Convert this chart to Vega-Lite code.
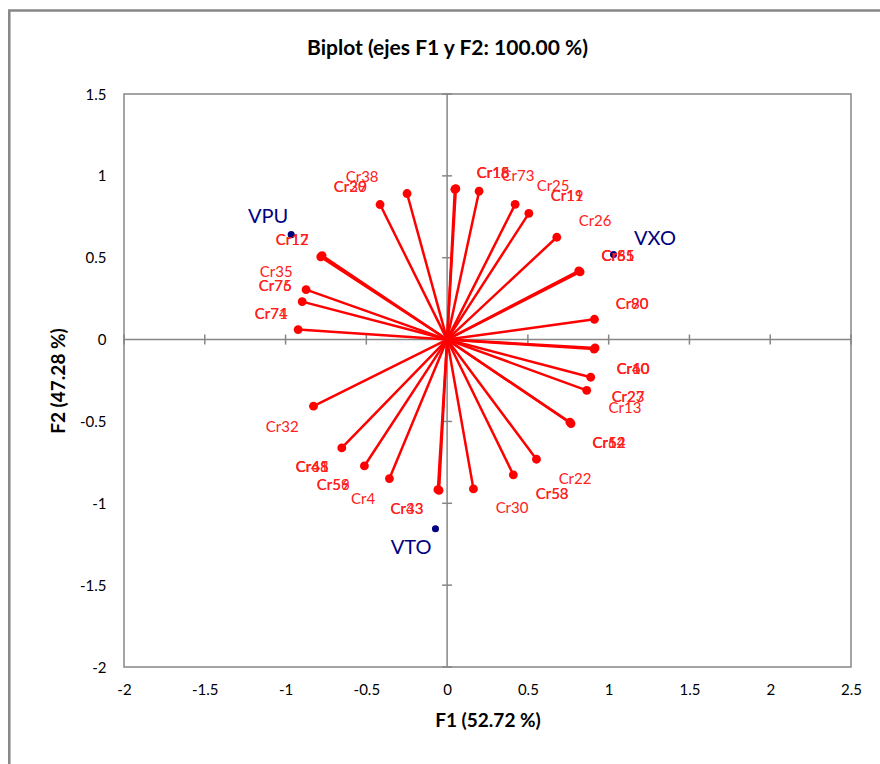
{
  "$schema": "https://vega.github.io/schema/vega-lite/v6.json",
  "width": 727,
  "height": 573,
  "autosize": {"type": "none"},
  "padding": {"left": 124, "top": 94, "right": 29, "bottom": 97},
  "background": "white",
  "title": {"text": "Biplot (ejes F1 y F2: 100.00 %)", "font": "Lato", "fontSize": 21, "fontWeight": "bold", "color": "#000000", "offset": -50, "dx": -40},
  "datasets": {
    "vec": [
      {"x": -0.248, "y": 0.892}, {"x": -0.415, "y": 0.825}, {"x": -0.774, "y": 0.513}, {"x": -0.782, "y": 0.505},
      {"x": -0.873, "y": 0.305}, {"x": -0.897, "y": 0.232}, {"x": -0.922, "y": 0.061},
      {"x": 0.054, "y": 0.922}, {"x": 0.048, "y": 0.918}, {"x": 0.198, "y": 0.906}, {"x": 0.421, "y": 0.826},
      {"x": 0.506, "y": 0.771}, {"x": 0.679, "y": 0.625}, {"x": 0.823, "y": 0.413}, {"x": 0.815, "y": 0.42},
      {"x": 0.912, "y": 0.124}, {"x": 0.916, "y": -0.051}, {"x": 0.91, "y": -0.058}, {"x": 0.889, "y": -0.23},
      {"x": 0.864, "y": -0.31}, {"x": 0.767, "y": -0.513}, {"x": 0.76, "y": -0.505}, {"x": 0.553, "y": -0.731},
      {"x": 0.41, "y": -0.826}, {"x": 0.163, "y": -0.912}, {"x": -0.05, "y": -0.921}, {"x": -0.057, "y": -0.917},
      {"x": -0.357, "y": -0.849}, {"x": -0.512, "y": -0.772}, {"x": -0.652, "y": -0.662}, {"x": -0.827, "y": -0.407}
    ],
    "lab": [
      {"x": -0.526, "y": 0.99, "name": "Cr38"},
      {"x": -0.6, "y": 0.929, "name": "Cr20"}, {"x": -0.6, "y": 0.929, "name": "Cr39"},
      {"x": -0.959, "y": 0.611, "name": "Cr12"}, {"x": -0.959, "y": 0.611, "name": "Cr17"},
      {"x": -1.058, "y": 0.415, "name": "Cr35"},
      {"x": -1.064, "y": 0.33, "name": "Cr75"}, {"x": -1.064, "y": 0.33, "name": "Cr76"},
      {"x": -1.089, "y": 0.159, "name": "Cr74"}, {"x": -1.089, "y": 0.159, "name": "Cr71"},
      {"x": 0.285, "y": 1.02, "name": "Cr15"}, {"x": 0.285, "y": 1.02, "name": "Cr18"}, {"x": 0.285, "y": 1.02, "name": "Cr16"},
      {"x": 0.439, "y": 1.002, "name": "Cr73"},
      {"x": 0.656, "y": 0.935, "name": "Cr25"},
      {"x": 0.743, "y": 0.874, "name": "Cr11"}, {"x": 0.743, "y": 0.874, "name": "Cr19"},
      {"x": 0.916, "y": 0.727, "name": "Cr26"},
      {"x": 1.058, "y": 0.513, "name": "Cr85"}, {"x": 1.058, "y": 0.513, "name": "Cr65"}, {"x": 1.058, "y": 0.513, "name": "Cr51"},
      {"x": 1.145, "y": 0.22, "name": "Cr80"}, {"x": 1.145, "y": 0.22, "name": "Cr90"},
      {"x": 1.151, "y": -0.177, "name": "Cr60"}, {"x": 1.151, "y": -0.177, "name": "Cr10"}, {"x": 1.151, "y": -0.177, "name": "Cr40"},
      {"x": 1.12, "y": -0.348, "name": "Cr23"}, {"x": 1.12, "y": -0.348, "name": "Cr27"},
      {"x": 1.101, "y": -0.421, "name": "Cr13"},
      {"x": 1.002, "y": -0.629, "name": "Cr14"}, {"x": 1.002, "y": -0.629, "name": "Cr52"}, {"x": 1.002, "y": -0.629, "name": "Cr62"},
      {"x": 0.792, "y": -0.849, "name": "Cr22"},
      {"x": 0.65, "y": -0.941, "name": "Cr58"}, {"x": 0.65, "y": -0.941, "name": "Cr53"},
      {"x": 0.402, "y": -1.026, "name": "Cr30"},
      {"x": -1.021, "y": -0.531, "name": "Cr32"},
      {"x": -0.835, "y": -0.776, "name": "Cr45"}, {"x": -0.835, "y": -0.776, "name": "Cr61"}, {"x": -0.835, "y": -0.776, "name": "Cr48"},
      {"x": -0.705, "y": -0.886, "name": "Cr56"}, {"x": -0.705, "y": -0.886, "name": "Cr59"},
      {"x": -0.52, "y": -0.971, "name": "Cr4"},
      {"x": -0.248, "y": -1.032, "name": "Cr33"}, {"x": -0.248, "y": -1.032, "name": "Cr43"}
    ],
    "vars": [
      {"x": -0.965, "y": 0.641, "lx": -1.108, "ly": 0.751, "name": "VPU"},
      {"x": 1.03, "y": 0.519, "lx": 1.287, "ly": 0.617, "name": "VXO"},
      {"x": -0.072, "y": -1.155, "lx": -0.223, "ly": -1.271, "name": "VTO"}
    ],
    "xticks": [{"v": -2}, {"v": -1.5}, {"v": -1}, {"v": -0.5}, {"v": 0}, {"v": 0.5}, {"v": 1}, {"v": 1.5}, {"v": 2}, {"v": 2.5}],
    "yticks": [{"v": -2}, {"v": -1.5}, {"v": -1}, {"v": -0.5}, {"v": 0}, {"v": 0.5}, {"v": 1}, {"v": 1.5}]
  },
  "config": {
    "view": {"stroke": "#868686", "strokeWidth": 1.5},
    "axis": {"grid": false, "labelFont": "Lato", "labelFontSize": 15, "labelColor": "#000000", "titleFont": "Lato", "titleFontSize": 19, "titleFontWeight": "bold", "titleColor": "#000000"}
  },
  "encoding": {
    "x": {"type": "quantitative", "scale": {"domain": [-2, 2.5], "nice": false, "zero": false}},
    "y": {"type": "quantitative", "scale": {"domain": [-2, 1.5], "nice": false, "zero": false}}
  },
  "layer": [
    {
      "data": {"values": [{}]},
      "mark": {"type": "rule", "color": "#868686", "strokeWidth": 1.5},
      "encoding": {
        "x": {"datum": -2, "type": "quantitative",
          "axis": {"orient": "bottom", "title": "F1 (52.72 %)", "values": [-2, -1.5, -1, -0.5, 0, 0.5, 1, 1.5, 2, 2.5], "labelExpr": "datum.value + ''", "ticks": false, "domain": false, "labelPadding": 15, "titlePadding": 14, "labelFlush": false, "labelOverlap": false}},
        "x2": {"datum": 2.5},
        "y": {"datum": 0, "type": "quantitative",
          "axis": {"orient": "left", "title": "F2 (47.28 %)", "values": [-2, -1.5, -1, -0.5, 0, 0.5, 1, 1.5], "labelExpr": "datum.value + ''", "ticks": false, "domain": false, "labelPadding": 18, "titlePadding": 11, "labelFlush": false, "labelOverlap": false}}
      }
    },
    {
      "data": {"values": [{}]},
      "mark": {"type": "rule", "color": "#868686", "strokeWidth": 1.5},
      "encoding": {
        "y": {"datum": -2, "type": "quantitative"},
        "y2": {"datum": 1.5},
        "x": {"datum": 0, "type": "quantitative"}
      }
    },
    {
      "data": {"name": "xticks"},
      "mark": {"type": "tick", "color": "#868686", "orient": "vertical", "size": 10, "thickness": 1.5, "opacity": 1},
      "encoding": {
        "x": {"field": "v", "type": "quantitative"},
        "y": {"datum": 0, "type": "quantitative"}
      }
    },
    {
      "data": {"name": "yticks"},
      "mark": {"type": "tick", "color": "#868686", "orient": "horizontal", "size": 10, "thickness": 1.5, "opacity": 1},
      "encoding": {
        "y": {"field": "v", "type": "quantitative"},
        "x": {"datum": 0, "type": "quantitative"}
      }
    },
    {
      "data": {"name": "vec"},
      "mark": {"type": "rule", "color": "#FF0000", "strokeWidth": 2.5},
      "encoding": {
        "x": {"field": "x", "type": "quantitative"},
        "y": {"field": "y", "type": "quantitative"},
        "x2": {"datum": 0},
        "y2": {"datum": 0}
      }
    },
    {
      "data": {"name": "vec"},
      "mark": {"type": "circle", "color": "#FF0000", "opacity": 1, "size": 78},
      "encoding": {
        "x": {"field": "x", "type": "quantitative"},
        "y": {"field": "y", "type": "quantitative"}
      }
    },
    {
      "data": {"name": "vars"},
      "mark": {"type": "circle", "color": "#000080", "opacity": 1, "size": 50},
      "encoding": {
        "x": {"field": "x", "type": "quantitative"},
        "y": {"field": "y", "type": "quantitative"}
      }
    },
    {
      "data": {"name": "lab"},
      "mark": {"type": "text", "color": "#FF2020", "font": "Lato", "fontSize": 15, "align": "center", "baseline": "middle"},
      "encoding": {
        "x": {"field": "x", "type": "quantitative"},
        "y": {"field": "y", "type": "quantitative"},
        "text": {"field": "name", "type": "nominal"}
      }
    },
    {
      "data": {"name": "vars"},
      "mark": {"type": "text", "color": "#000080", "font": "Lato", "fontSize": 20, "align": "center", "baseline": "middle"},
      "encoding": {
        "x": {"field": "lx", "type": "quantitative"},
        "y": {"field": "ly", "type": "quantitative"},
        "text": {"field": "name", "type": "nominal"}
      }
    },
    {
      "data": {"values": [{}]},
      "mark": {"type": "rect", "fill": null, "fillOpacity": 0, "stroke": "#868686", "strokeWidth": 2.5},
      "encoding": {
        "x": {"datum": -2.71, "type": "quantitative"},
        "x2": {"datum": 3.5},
        "y": {"datum": 2.01, "type": "quantitative"},
        "y2": {"datum": -3}
      }
    }
  ]
}
